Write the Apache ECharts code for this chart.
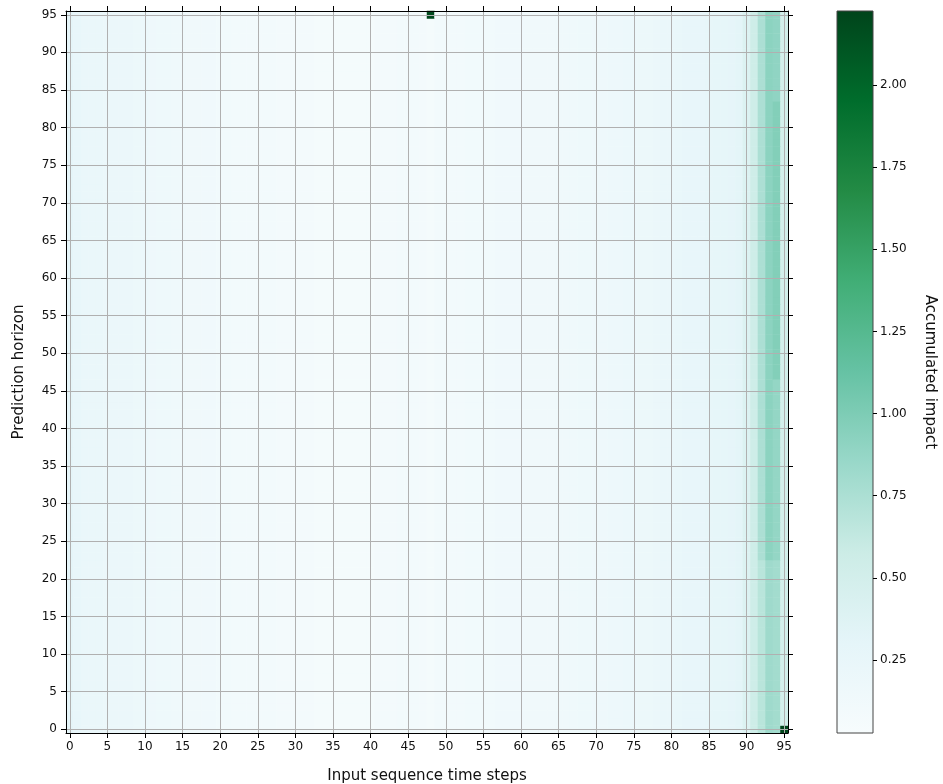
<!DOCTYPE html>
<html>
<head>
<meta charset="utf-8">
<title>Accumulated impact heatmap</title>
<script src="https://cdn.jsdelivr.net/npm/echarts@6/dist/echarts.min.js"></script>
<style>
  html, body { margin: 0; padding: 0; background: #ffffff; }
  #chart { width: 943px; height: 784px; }
</style>
</head>
<body>
<div id="chart"></div>
<script>
// Input time steps (columns) and prediction horizons (rows): 0..95
const inputSteps = ['0','1','2','3','4','5','6','7','8','9','10','11','12','13','14','15','16','17','18','19',
  '20','21','22','23','24','25','26','27','28','29','30','31','32','33','34','35','36','37','38','39',
  '40','41','42','43','44','45','46','47','48','49','50','51','52','53','54','55','56','57','58','59',
  '60','61','62','63','64','65','66','67','68','69','70','71','72','73','74','75','76','77','78','79',
  '80','81','82','83','84','85','86','87','88','89','90','91','92','93','94','95'];
const horizons = inputSteps.slice();

// Tick labels shown on both axes
const axisTicks = [0, 5, 10, 15, 20, 25, 30, 35, 40, 45, 50, 55, 60, 65, 70, 75, 80, 85, 90, 95];
const colorbarTicks = [0.25, 0.5, 0.75, 1.0, 1.25, 1.5, 1.75, 2.0];

// Typical accumulated impact of each input step (same for most horizons)
const stepImpact = [
  0.30, 0.25, 0.23, 0.22, 0.22, 0.21, 0.21, 0.21, 0.21, 0.20,
  0.19, 0.17, 0.16, 0.16, 0.15, 0.15, 0.14, 0.14, 0.13, 0.13,
  0.12, 0.12, 0.11, 0.11, 0.11, 0.10, 0.10, 0.10, 0.09, 0.09,
  0.09, 0.09, 0.09, 0.08, 0.08, 0.08, 0.08, 0.08, 0.08, 0.08,
  0.08, 0.09, 0.09, 0.09, 0.10, 0.10, 0.10, 0.09, 0.07, 0.10,
  0.11, 0.11, 0.11, 0.12, 0.12, 0.12, 0.12, 0.13, 0.13, 0.13,
  0.13, 0.14, 0.14, 0.14, 0.14, 0.15, 0.15, 0.15, 0.16, 0.16,
  0.17, 0.17, 0.18, 0.18, 0.19, 0.19, 0.20, 0.20, 0.21, 0.22,
  0.23, 0.24, 0.25, 0.26, 0.26, 0.27, 0.28, 0.28, 0.29, 0.31,
  0.40, 0.55, 0.75, 0.92, 0.95, 0.50
];

// Horizon ranges where the most recent steps differ from the typical value
const bandStep  = [92,   93,   94,   94,   94,   94];
const bandFrom  = [0,    0,    0,    23,   47,   84];
const bandTo    = [22,   22,   22,   46,   83,   95];
const bandValue = [0.68, 0.82, 0.80, 0.88, 0.97, 0.90];

// Individual cells with a strong impact: [input step, horizon, value]
const peakCells = [[48, 95, 2.20], [95, 0, 2.225]];

const vMin = 0.028, vMax = 2.225;
const bugn = ['#f7fcfd', '#e5f5f9', '#ccece6', '#99d8c9', '#66c2a4', '#41ae76', '#238b45', '#006d2c', '#00441b'];

// Assemble the cell table
const grid = [];
for (let h = 0; h < horizons.length; h++) {
  grid.push(stepImpact.slice());
}
for (let i = 0; i < bandStep.length; i++) {
  for (let h = bandFrom[i]; h <= bandTo[i]; h++) grid[h][bandStep[i]] = bandValue[i];
}
peakCells.forEach(function (c) { grid[c[1]][c[0]] = c[2]; });

const cells = [];
for (let h = 0; h < horizons.length; h++) {
  for (let s = 0; s < inputSteps.length; s++) cells.push([s, h, grid[h][s]]);
}

const FONT = 'DejaVu Sans';
const plot = { left: 66, top: 11, width: 722, height: 722, containLabel: false, outerBoundsMode: 'none' };
const tickText = { fontFamily: FONT, fontSize: 12, color: '#111' };
const nameText = { fontFamily: FONT, fontSize: 15, color: '#111' };
const spine = { show: true, onZero: false, lineStyle: { color: '#000', width: 1 } };
const gridLine = { show: true, lineStyle: { color: '#b0b0b0', width: 1 } };
const outTick = { show: true, inside: false, length: 5, customValues: axisTicks, lineStyle: { color: '#000' } };

const chart = echarts.init(document.getElementById('chart'), null, { renderer: 'canvas' });

chart.setOption({
  animation: false,
  backgroundColor: '#ffffff',
  grid: [
    Object.assign({}, plot),
    Object.assign({}, plot),
    {
      left: 837, top: 11, width: 36, height: 722, show: true,
      containLabel: false, outerBoundsMode: 'none',
      backgroundColor: {
        type: 'linear', x: 0, y: 1, x2: 0, y2: 0,
        colorStops: bugn.map(function (c, i) { return { offset: i / (bugn.length - 1), color: c }; })
      },
      borderColor: '#444', borderWidth: 1
    }
  ],
  xAxis: [
    { gridIndex: 0, type: 'category', data: inputSteps, show: false },
    {
      gridIndex: 1, type: 'value', min: -0.5, max: 95.5, position: 'bottom', z: 5,
      axisLine: spine,
      axisTick: outTick,
      axisLabel: Object.assign({ margin: 8, customValues: axisTicks }, tickText),
      splitLine: gridLine,
      name: 'Input sequence time steps', nameLocation: 'middle', nameGap: 36, nameTextStyle: nameText
    },
    {
      gridIndex: 1, type: 'value', min: -0.5, max: 95.5, position: 'top', z: 5,
      axisLine: spine,
      axisTick: outTick,
      axisLabel: { show: false },
      splitLine: { show: false }
    },
    { gridIndex: 2, type: 'value', show: false, min: 0, max: 1 }
  ],
  yAxis: [
    { gridIndex: 0, type: 'category', data: horizons, show: false },
    {
      gridIndex: 1, type: 'value', min: -0.5, max: 95.5, position: 'left', z: 5,
      axisLine: spine,
      axisTick: outTick,
      axisLabel: Object.assign({ margin: 9, customValues: axisTicks }, tickText),
      splitLine: gridLine,
      name: 'Prediction horizon', nameLocation: 'middle', nameGap: 39, nameRotate: 90, nameTextStyle: nameText
    },
    {
      gridIndex: 1, type: 'value', min: -0.5, max: 95.5, position: 'right', z: 5,
      axisLine: spine,
      axisTick: outTick,
      axisLabel: { show: false },
      splitLine: { show: false }
    },
    {
      gridIndex: 2, type: 'value', min: vMin, max: vMax, position: 'right',
      axisLine: { show: false, onZero: false },
      axisTick: { show: true, inside: false, length: 4, customValues: colorbarTicks, lineStyle: { color: '#000' } },
      axisLabel: Object.assign({
        margin: 7, customValues: colorbarTicks,
        formatter: function (v) { return Number(v).toFixed(2); }
      }, tickText),
      splitLine: { show: false },
      name: 'Accumulated impact', nameLocation: 'middle', nameGap: 49, nameRotate: -90, nameTextStyle: nameText
    }
  ],
  visualMap: {
    type: 'continuous', show: false, min: vMin, max: vMax, dimension: 2, seriesIndex: 0,
    inRange: { color: bugn }
  },
  series: [{
    type: 'heatmap',
    xAxisIndex: 0, yAxisIndex: 0,
    data: cells,
    progressive: 0,
    emphasis: { disabled: true }
  }]
});
</script>
</body>
</html>
